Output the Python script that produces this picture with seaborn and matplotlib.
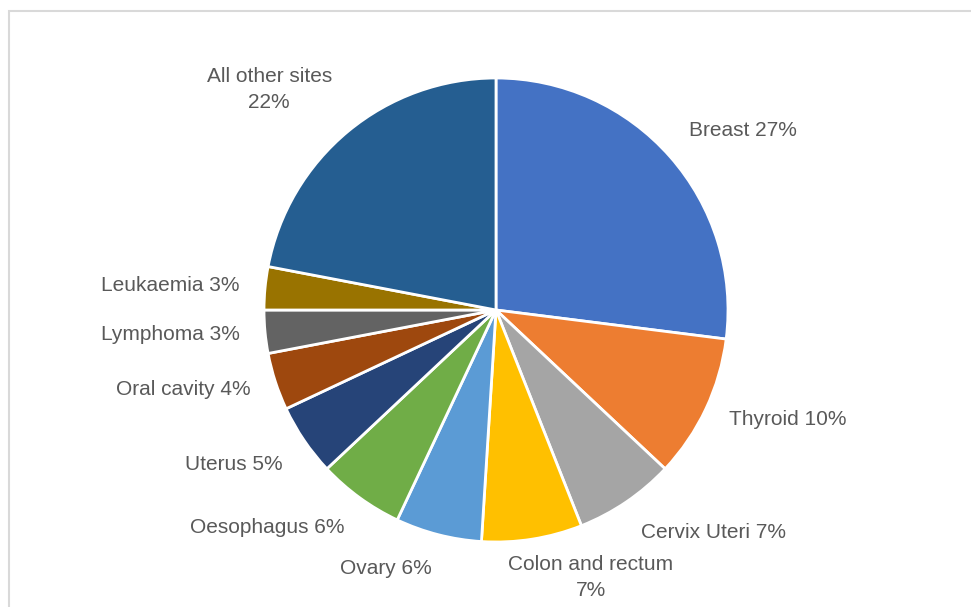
import seaborn as sns
import matplotlib.pyplot as plt
import numpy as np
from matplotlib.patches import Rectangle

sites = ["Breast", "Thyroid", "Cervix Uteri", "Colon and rectum", "Ovary",
         "Oesophagus", "Uterus", "Oral cavity", "Lymphoma", "Leukaemia",
         "All other sites"]
shares = [27, 10, 7, 7, 6, 6, 5, 4, 3, 3, 22]
colors = ["#4472C4", "#ED7D31", "#A5A5A5", "#FFC000", "#5B9BD5", "#70AD47",
          "#264478", "#9E480E", "#636363", "#997300", "#255E91"]
# labels that wrap onto two lines in the original
two_line = ["Colon and rectum", "All other sites"]

sns.set_theme(style="white")
plt.rcParams["font.family"] = ["Liberation Sans", "DejaVu Sans"]

W, H = 971, 607
fig = plt.figure(figsize=(W / 100, H / 100), dpi=100)
ax = fig.add_axes([0, 0, 1, 1])

wedges, _ = ax.pie(shares, colors=colors, startangle=90, counterclock=False,
                   radius=1.0, wedgeprops=dict(edgecolor="white", linewidth=2))

# place labels outside the slice edge, Excel-style
for w, name, val in zip(wedges, sites, shares):
    ang = np.deg2rad((w.theta1 + w.theta2) / 2)
    c, s = np.cos(ang), np.sin(ang)
    sep = "\n" if name in two_line else " "
    txt = f"{name}{sep}{val}%"
    if abs(c) < 0.2:
        r = 1.07
        x, y = r * c + 0.24, r * s
        ha = "center"
    else:
        r = 1.11
        x, y = r * c, r * s
        ha = "left" if c > 0 else "right"
    if s > 0.5:
        va = "bottom"
    elif s < -0.5:
        va = "top"
    else:
        va = "center"
    ax.text(x, y, txt, ha=ha, va=va, fontsize=15, color="#595959",
            multialignment="center", linespacing=1.45)

# map data units onto pixels: centre (496, 310), radius 232 px
cx, cy, rp = 496, 310, 232
ax.set_aspect("auto")
ax.set_xlim(-cx / rp, (W - cx) / rp)
ax.set_ylim((cy - H) / rp, cy / rp)
ax.axis("off")

# chart area frame (left and top edges visible)
fig.patches.append(Rectangle((9 / W, -0.1), 2.0, (H - 11) / H + 0.1,
                             transform=fig.transFigure, fill=False,
                             edgecolor="#D9D9D9", linewidth=1.5))

fig.savefig("out.png", dpi=100, facecolor="white")
